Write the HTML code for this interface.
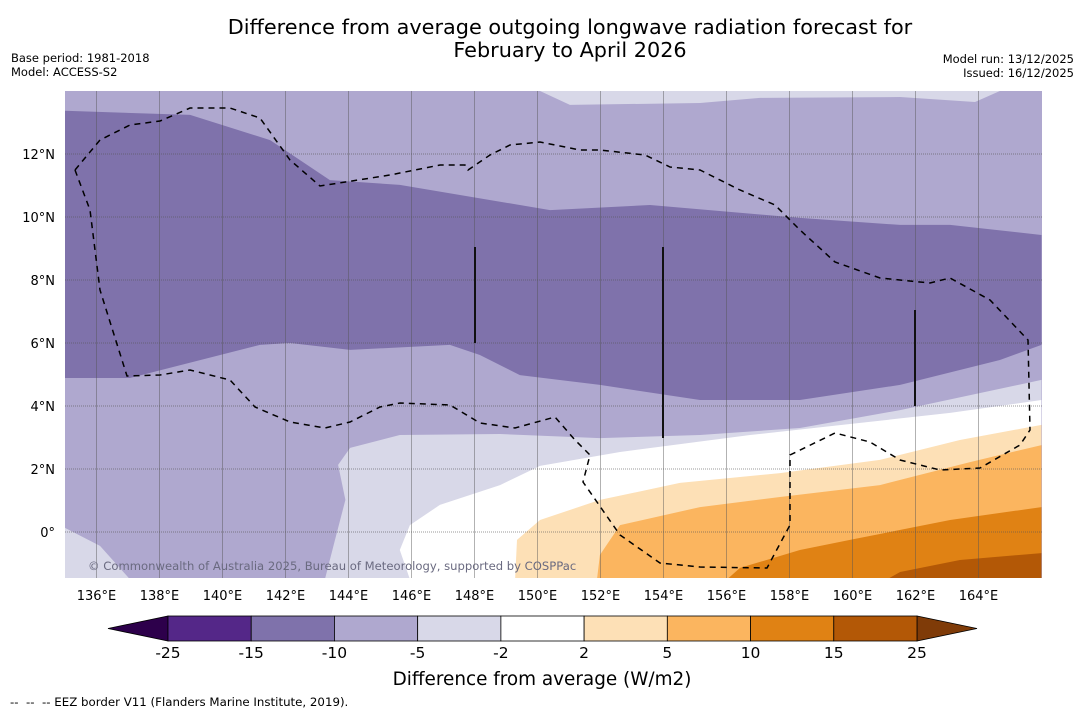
<!DOCTYPE html>
<html><head><meta charset="utf-8"><style>
body{margin:0;background:#fff;font-family:"Liberation Sans","DejaVu Sans",sans-serif}
svg text{font-family:"DejaVu Sans","Liberation Sans",sans-serif}
</style></head><body>
<svg id="c" width="1085" height="713" xmlns="http://www.w3.org/2000/svg">
<rect width="1085" height="713" fill="#fff"/>
<text x="570" y="34" font-size="20.8" text-anchor="middle">Difference from average outgoing longwave radiation forecast for</text>
<text x="570" y="57" font-size="20.8" text-anchor="middle">February to April 2026</text>
<text x="11" y="62" font-size="11.5">Base period: 1981-2018</text>
<text x="11" y="76" font-size="11.5">Model: ACCESS-S2</text>
<text x="1074" y="63" font-size="11.5" text-anchor="end">Model run: 13/12/2025</text>
<text x="1074" y="77" font-size="11.5" text-anchor="end">Issued: 16/12/2025</text>
<defs><clipPath id="mc"><rect x="65" y="91" width="977" height="487"/></clipPath></defs>
<g id="map" clip-path="url(#mc)"></g>
<g id="axes"></g>
<g id="cbar"></g>
<text x="542" y="685" font-size="18.4" text-anchor="middle">Difference from average (W/m2)</text>
<text x="10" y="706" font-size="11.8" style="white-space:pre">--  --  -- EEZ border V11 (Flanders Marine Institute, 2019).</text>
</svg>
<script>
const lonTicks=[136,138,140,142,144,146,148,150,152,154,156,158,160,162,164];
const latTicks=[12,10,8,6,4,2,0];
const cbLevels=[-25,-15,-10,-5,-2,2,5,10,15,25];
const cbColors=["#542788","#7f72ab","#afa8cf","#d8d8e8","#ffffff","#fde0b6","#fbb55f","#e08214","#b35806"];
const darkTop=[[135,13.37],[138.97,13.24],[141.51,12.44],[143.41,11.17],[145.63,11.02],[150.4,10.22],[153.57,10.38],[158.33,9.97],[161.51,9.75],[163.1,9.75],[166,9.43]];
const darkBottom=[[135,4.89],[137.06,4.89],[141.19,5.94],[142.14,6.0],[144.05,5.78],[147.22,5.94],[148.17,5.62],[149.44,4.98],[151.98,4.67],[155.16,4.19],[158.33,4.19],[161.51,4.67],[164.68,5.46],[166,5.94]];
const topStrip=[[150.08,14],[151.03,13.56],[155.16,13.62],[157.06,13.78],[161.51,13.81],[163.89,13.65],[164.68,14]];
const lev5=[[166,4.83],[161.51,3.87],[158.33,3.3],[155.16,3.08],[151.98,2.98],[148.81,3.11],[145.63,3.08],[144.05,2.67],[143.67,2.13],[143.9,1.02],[143.57,-0.25],[143.25,-1.5]];
const levCorner=[[135,0.13],[136.11,-0.44],[137.06,-1.5]];
const lev2=[[166,4.19],[163.1,3.78],[159.92,3.43],[156.75,3.08],[152.62,2.54],[150.08,2.1],[148.81,1.49],[146.9,0.86],[145.95,0.22],[145.63,-0.57],[145.95,-1.5]];
const levP2=[[166,3.4],[163.41,2.92],[160.87,2.29],[157.7,1.87],[154.52,1.56],[151.98,1.02],[150.08,0.38],[149.35,-0.25],[149.29,-1.5]];
const levP5=[[166,2.76],[163.73,2.22],[160.87,1.49],[157.7,1.11],[155.16,0.79],[152.62,0.22],[151.98,-0.73],[151.89,-1.5]];
const levP10=[[166,0.79],[163.1,0.38],[159.92,-0.25],[158.33,-0.57],[156.43,-1.14],[156.02,-1.5]];
const levP15=[[166,-0.67],[163.41,-0.89],[161.51,-1.27],[161.1,-1.5]];
const X=lon=>65+(lon-135)*31.5, Y=lat=>91+(14-lat)*31.5;
const NS="http://www.w3.org/2000/svg";
const map=document.getElementById('map'),axes=document.getElementById('axes'),cb=document.getElementById('cbar');
function mk(t,a,p){const e=document.createElementNS(NS,t);for(const k in a)e.setAttribute(k,a[k]);p.appendChild(e);return e;}
const pts=a=>a.map(p=>X(p[0]).toFixed(1)+','+Y(p[1]).toFixed(1)).join(' ');
let e=mk('rect',{x:65,y:91,width:977,height:487,fill:cbColors[2]},map);


e=mk('polygon',{points:pts(darkTop.concat(darkBottom.slice().reverse())),fill:cbColors[1]},map);


e=mk('polygon',{points:pts(topStrip),fill:cbColors[3]},map);


e=mk('polygon',{points:pts(levCorner.concat([[135,-1.5]])),fill:cbColors[3]},map);


[[lev5,3,'contour-minus5-minus2'],[lev2,4,'contour-minus2-2'],[levP2,5,'contour-2-5'],[levP5,6,'contour-5-10'],[levP10,7,'contour-10-15'],[levP15,8,'contour-15-25']].forEach(([a,ci,n])=>{
 e=mk('polygon',{points:pts(a.concat([[166,-1.5]])),fill:cbColors[ci]},map);
 
 
});
lonTicks.forEach(l=>{
 e=mk('line',{x1:X(l),x2:X(l),y1:91,y2:578,stroke:'#555',"stroke-opacity":0.45,"stroke-width":1},map);
 
 
 e=mk('text',{x:X(l),y:600,"font-size":13,"text-anchor":"middle"},axes);e.textContent=l+'°E';
 
 
});
latTicks.forEach(l=>{
 e=mk('line',{x1:65,x2:1042,y1:Y(l),y2:Y(l),stroke:'#555',"stroke-opacity":0.6,"stroke-width":1,"stroke-dasharray":"1,1"},map);
 
 
 e=mk('text',{x:55,y:Y(l)+5,"font-size":13,"text-anchor":"end"},axes);e.textContent=l===0?'0°':l+'°N';
 
 
});
e=mk('path',{d:"M75,170 L90,210 L100,290 L127,376 L160,375 L190,370 L230,380 L255,407 L290,422 L325,428 L350,422 L380,407 L400,403 L450,405 L480,423 L515,428 L555,417 L575,440 L590,455 L583,482 L620,535 L660,563 L700,567 L767,568 L790,525 L790,455 L835,433 L870,442 L900,460 L940,470 L980,468 L1020,445 L1030,430 L1028,340 L990,300 L950,278 L930,283 L880,278 L835,262 L800,230 L775,205 L740,190 L700,170 L670,167 L645,155 L600,150 L580,150 L540,142 L510,145 L490,155 L468,170 L465,165 L440,165 L390,175 L320,186 L290,160 L260,118 L230,108 L190,108 L160,121 L130,125 L100,140 Z",fill:"none",stroke:"#000","stroke-width":1.5,"stroke-dasharray":"6,5"},map);


[[475,247,343],[663,247,438],[915,310,406]].forEach(v=>{
 e=mk('line',{x1:v[0],x2:v[0],y1:v[1],y2:v[2],stroke:'#111',"stroke-width":2},map);
 
 
});
e=mk('text',{x:88,y:570,"font-size":11.6,fill:"#6a6a80"},map);e.textContent='© Commonwealth of Australia 2025, Bureau of Meteorology, supported by COSPPac';


const cx0=168,cx1=917,cy=616,ch=25,n=cbLevels.length-1,w=(cx1-cx0)/n;
e=mk('polygon',{points:`108,${cy+ch/2} ${cx0},${cy} ${cx0},${cy+ch}`,fill:'#2d004b',stroke:'#000',"stroke-width":0.8},cb);


e=mk('polygon',{points:`977,${cy+ch/2} ${cx1},${cy} ${cx1},${cy+ch}`,fill:'#7f3b08',stroke:'#000',"stroke-width":0.8},cb);


for(let i=0;i<n;i++){
 e=mk('rect',{x:cx0+i*w,y:cy,width:w,height:ch,fill:cbColors[i],stroke:'#000',"stroke-width":0.8},cb);
 
 
}
cbLevels.forEach((v,i)=>{
 e=mk('text',{x:cx0+i*w,y:658,"font-size":15.5,"text-anchor":"middle"},cb);e.textContent=v;
 
 
});
</script>
</body></html>
